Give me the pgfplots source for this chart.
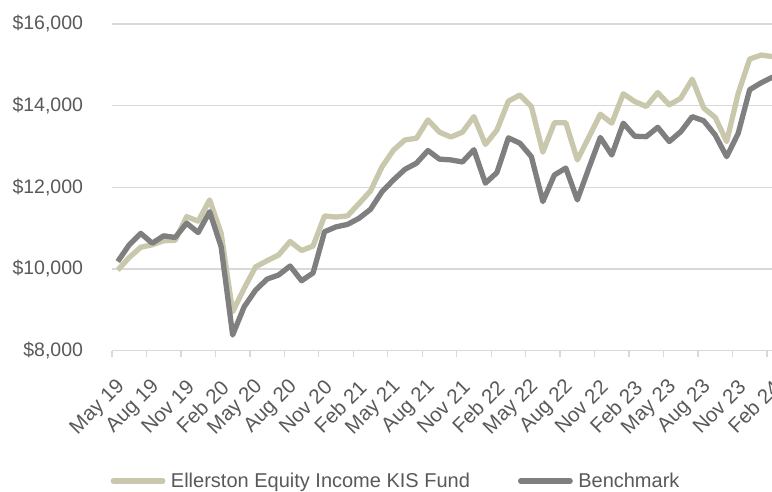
\documentclass[border=0pt]{standalone}
\usepackage{pgfplots}
\pgfplotsset{compat=1.18}
\usepackage{pgfplotstable}
\usepackage{fontspec}
\setmainfont{Liberation Sans}
\definecolor{fundc}{HTML}{C9C8AD}
\definecolor{benchc}{HTML}{7F7F7F}
\definecolor{gridc}{HTML}{D9D9D9}
\definecolor{textc}{HTML}{595959}
\pgfplotstableread{
i fund bench
0 9970 10180
1 10280 10590
2 10530 10870
3 10590 10630
4 10690 10810
5 10700 10770
6 11280 11120
7 11170 10890
8 11690 11400
9 10870 10540
10 8950 8380
11 9520 9070
12 10050 9480
13 10200 9750
14 10340 9850
15 10670 10070
16 10450 9710
17 10560 9900
18 11297 10910
19 11270 11030
20 11300 11090
21 11600 11240
22 11910 11460
23 12500 11890
24 12910 12180
25 13160 12440
26 13200 12590
27 13650 12900
28 13350 12690
29 13230 12670
30 13350 12620
31 13730 12920
32 13050 12100
33 13400 12360
34 14110 13210
35 14260 13080
36 13980 12750
37 12860 11650
38 13580 12300
39 13580 12470
40 12670 11690
41 13225 12466
42 13790 13220
43 13570 12790
44 14290 13570
45 14100 13250
46 13980 13240
47 14320 13470
48 14020 13120
49 14180 13360
50 14650 13730
51 13940 13630
52 13710 13280
53 13120 12750
54 14300 13320
55 15140 14390
56 15240 14560
57 15200 14700
}\datatable
\begin{document}
\begin{tikzpicture}
\useasboundingbox (-112pt,-140.5pt) rectangle (660pt,350.5pt);
\begin{axis}[
  at={(0,0)}, anchor=south west,
  scale only axis,
  width=666.4pt, height=326.5pt,
  xmin=-0.5, xmax=57.5,
  ymin=8000, ymax=16000,
  scaled y ticks=false,
  axis line style={draw=none},
  ytick={8000,10000,12000,14000,16000},
  yticklabels={{\$8,000},{\$10,000},{\$12,000},{\$14,000},{\$16,000}},
  ymajorgrids,
  grid style={color=gridc, line width=1.3pt},
  ytick style={draw=none},
  xtick={0,3,...,57},
  xticklabels={May 19,Aug 19,Nov 19,Feb 20,May 20,Aug 20,Nov 20,Feb 21,May 21,Aug 21,Nov 21,Feb 22,May 22,Aug 22,Nov 22,Feb 23,May 23,Aug 23,Nov 23,Feb 24},
  major x tick style={draw=none},
  minor xtick={-0.5,2.5,...,57},
  minor x tick style={color=gridc, line width=1.3pt},
  minor tick length=6pt,
  tick align=outside,
  tick pos=left,
  tick label style={font=\fontsize{19.5}{23}\selectfont, text=textc},
  x tick label style={rotate=45, anchor=east, inner sep=0pt, xshift=2.8pt, yshift=-2.8pt, font=\fontsize{20.5}{24}\selectfont},
  xticklabel shift=29pt,
  y tick label style={inner sep=0pt, xshift=-24.5pt},
  legend columns=2,
  legend style={draw=none, fill=none, inner sep=0pt, outer sep=0pt,
    at={(-0.002,-0.40)}, anchor=west,
    font=\fontsize{20}{24}\selectfont, text=textc,
    nodes={inner sep=0pt},
    /tikz/every odd column/.append style={column sep=5.5pt},
    /tikz/every even column/.append style={column sep=48pt}},
  legend image code/.code={\draw[#1, line cap=round] (0pt,0pt) -- (49.5pt,0pt);},
]
\addplot[fundc, line width=5.3pt, line join=round] table[x=i, y=fund] {\datatable};
\addlegendentry{Ellerston Equity Income KIS Fund}
\addplot[benchc, line width=5.3pt, line join=round] table[x=i, y=bench] {\datatable};
\addlegendentry{Benchmark}
\end{axis}
\end{tikzpicture}
\end{document}
